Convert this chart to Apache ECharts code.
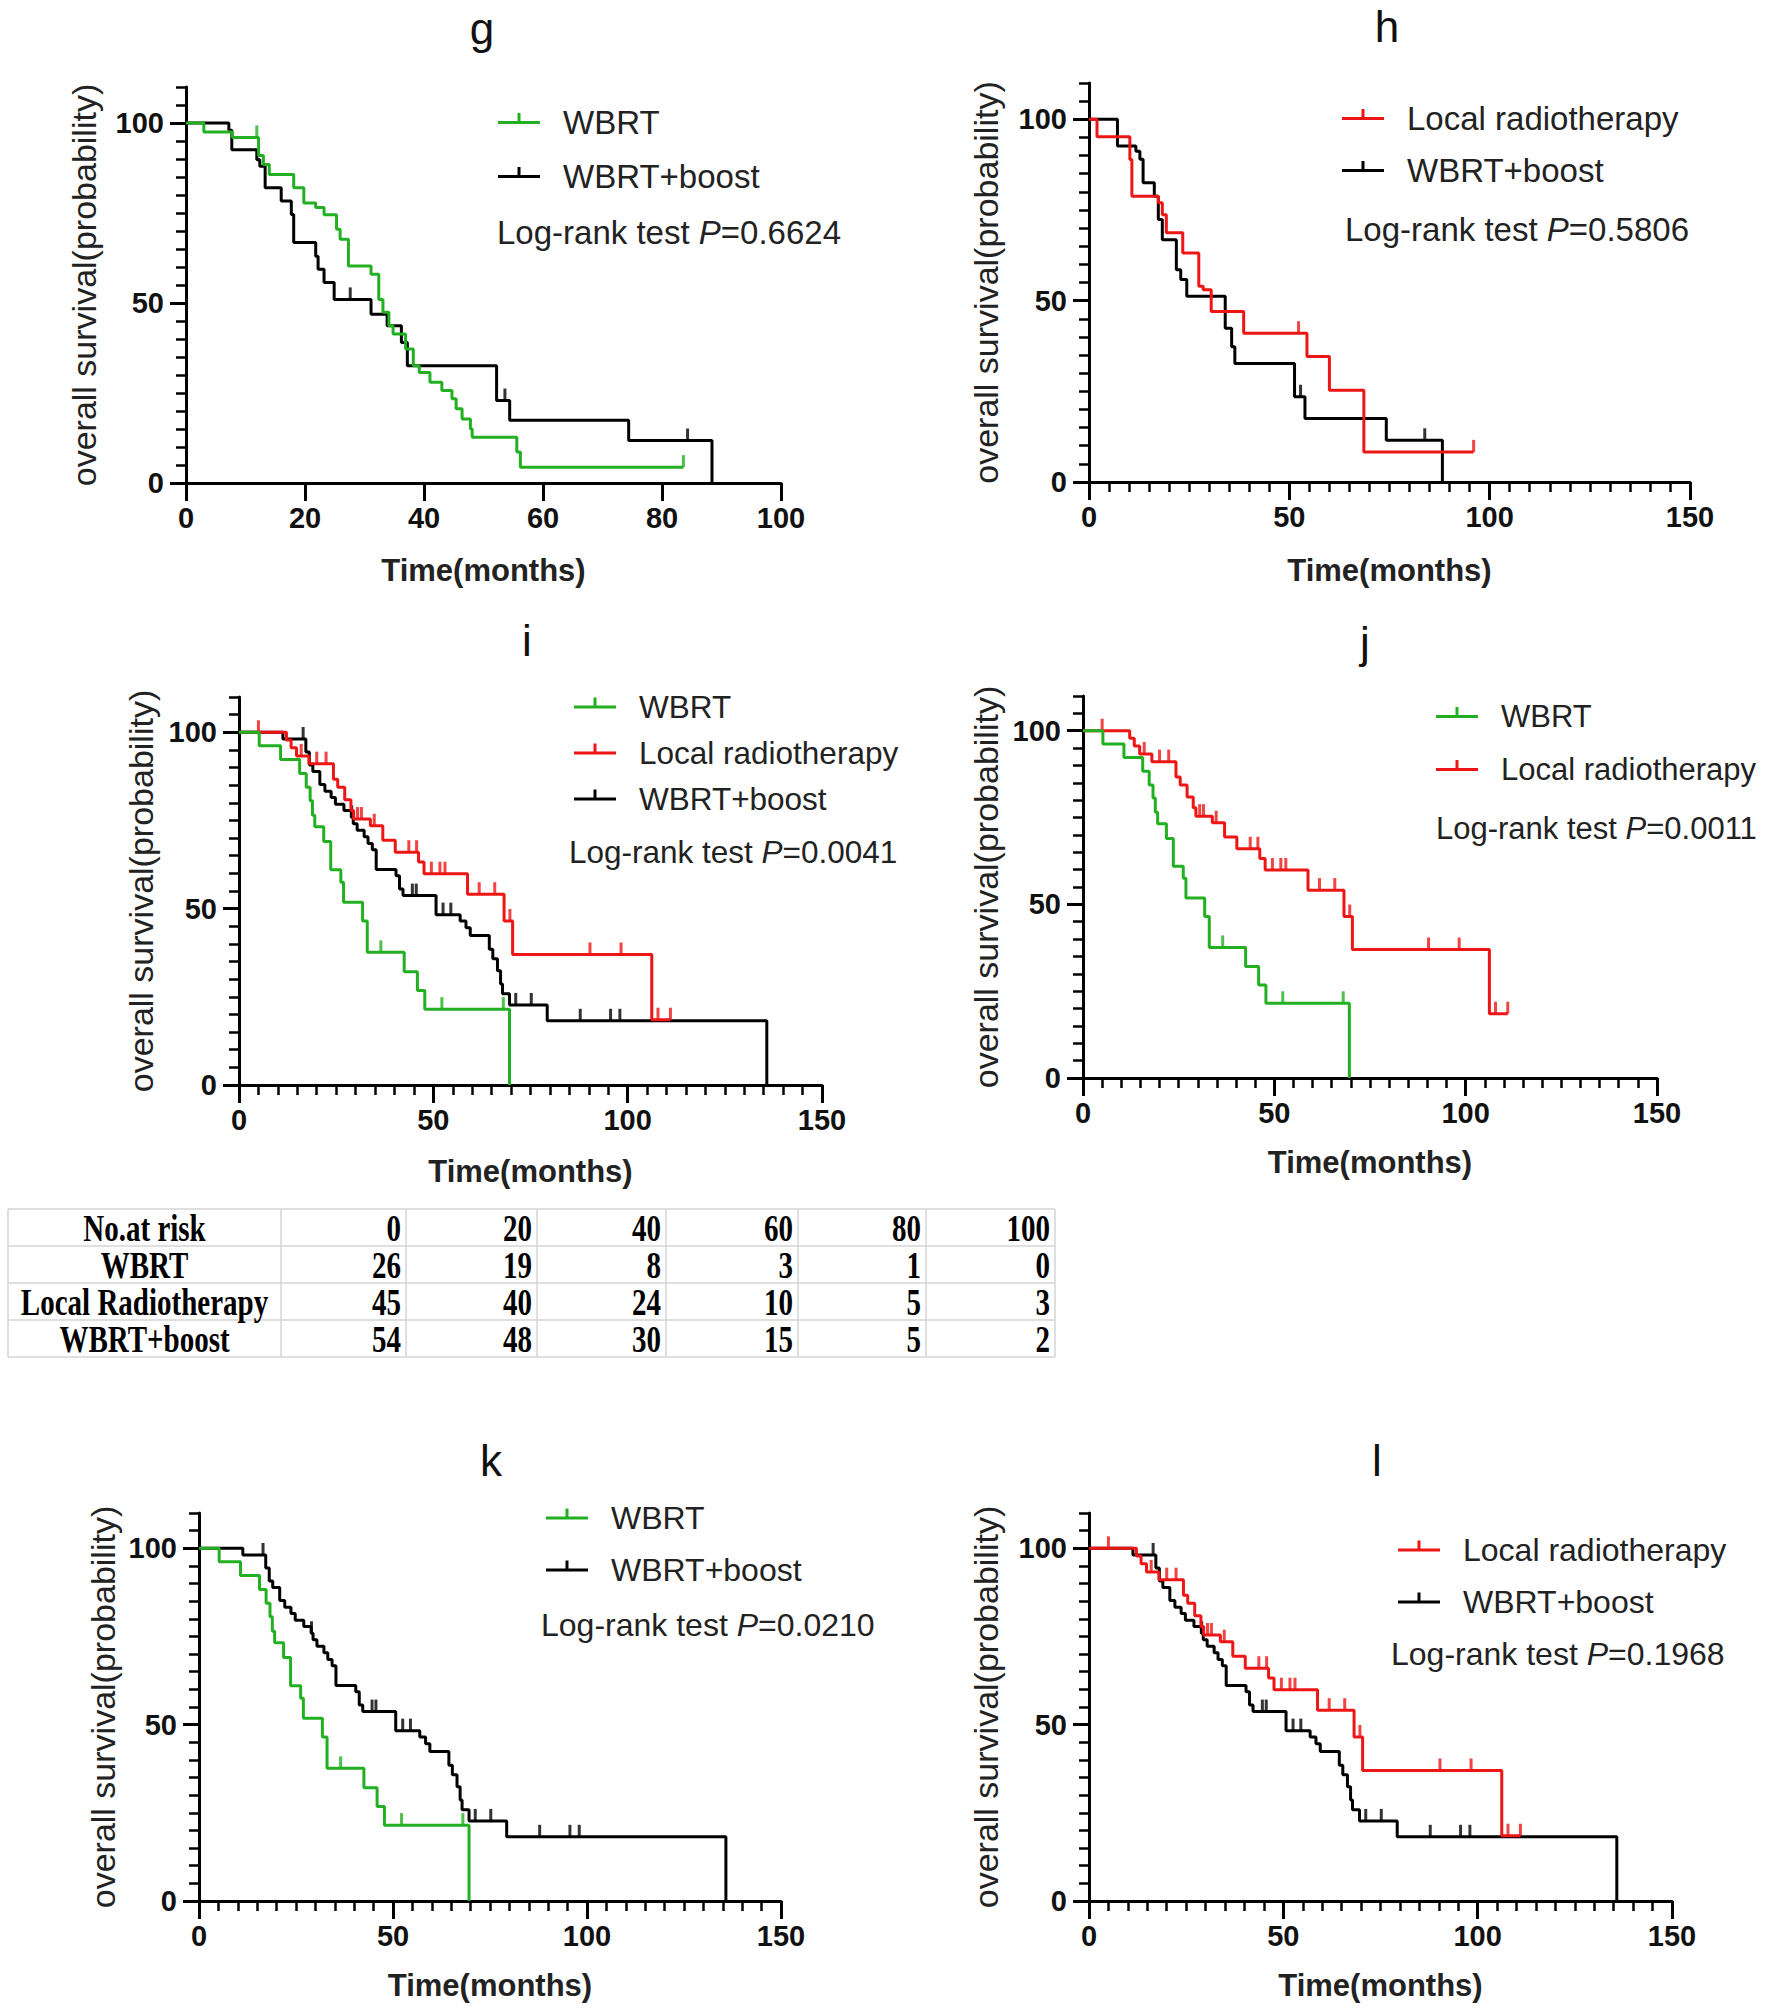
<!DOCTYPE html>
<html><head><meta charset="utf-8">
<script src="https://cdn.jsdelivr.net/npm/echarts@6/dist/echarts.min.js"></script>
<style>html,body{margin:0;padding:0;background:#fff}#c{width:1770px;height:2014px}</style>
</head><body><div id="c"></div>
<script>
// ---------------- DATA ----------------
// Panel g (WBRT vs WBRT+boost subgroup)
const gWbrtSteps = [[0,100],[3,97.5],[7.8,96],[12.2,91],[13,88.5],[14,85.7],[18.1,82],[19.8,77.8],[21.8,76.5],[23.2,74.5],[25.3,70.5],[25.9,67.7],[27.3,60.3],[31.1,58],[32.4,51],[33.1,47.4],[34.1,43.7],[34.8,41.4],[36.9,37.2],[38.2,32.6],[39.2,30.7],[41,28],[43,25.7],[44.7,23.4],[45.4,20.6],[46.4,17.8],[47.8,15],[48.1,12.7],[55.6,8.6],[56.2,4.4],[83.6,4.4]];
const gWbrtCensored = [[11.9,96],[83.6,4.4]];
const gBoostSteps = [[0,100],[7.2,98],[7.7,92.6],[11.9,89.8],[12.4,88],[13.3,82],[16,78.3],[17.7,74.6],[18.1,66.8],[21.8,63],[22.2,59.4],[23.2,55.7],[24.9,51],[31.1,46.9],[33.8,43.7],[36.2,39],[37.2,32.6],[52.2,22.9],[54.4,17.4],[74.4,11.8],[88.4,0]];
const gBoostCensored = [[27.6,51],[53.6,22.9],[84.3,11.8]];
// Panel h (Local radiotherapy vs WBRT+boost subgroup)
const hLocalSteps = [[0,100],[2,95.2],[10.2,88.9],[10.7,78.8],[17.3,77],[18.3,73.7],[19.3,68.7],[23.4,63.1],[27.4,54],[28.5,53],[30.5,47],[38.6,41],[54.4,34.6],[60,25.3],[68.6,8.3],[96,8.3]];
const hLocalCensored = [[52.3,41],[96,8.3]];
const hBoostSteps = [[0,100],[7.1,92.6],[11.7,91.2],[12.7,89],[13.5,82.5],[16.3,78.8],[17.3,72.4],[18.3,66.8],[21.8,58.5],[22.9,55.8],[24.4,51.2],[34,42.4],[35.6,37.3],[36.4,32.7],[51.3,23.5],[53.9,17.5],[74.2,11.5],[88.2,0]];
const hBoostCensored = [[52.8,23.5],[83.8,11.5]];
// Panels i-l (whole cohort)
const wbrtSteps = [[0,100],[5.2,96.2],[10.7,92.3],[15.6,88.3],[17.3,84.4],[18.3,80.6],[18.9,76.5],[19.5,73.2],[21.8,69],[23.6,61],[26.2,57.5],[26.9,51.8],[31.8,46.5],[33,37.6],[42.5,32.1],[45.9,26.8],[47.8,21.5],[69.6,0]];
const wbrtCensored = [[36.5,37.6],[52.2,21.5],[68,21.5]];
const localSteps = [[0,100],[12.2,97.8],[13.4,95.6],[14.8,93.3],[18,91.1],[24.3,86.7],[25.4,84.4],[27.2,80.9],[28.8,77.8],[29.5,75.4],[33.8,73.5],[37,69.4],[40.2,66],[46.2,63.2],[47.6,59.9],[58.8,54.1],[68.2,46.5],[70.4,37],[106.2,18.5],[111,18.5]];
const localCensored = [[5,100],[16,93.3],[20,91.1],[22.4,91.1],[30.5,75.4],[31.5,75.4],[34.8,73.5],[43.7,66],[45.7,66],[49.5,59.9],[51.7,59.9],[53,59.9],[61.8,54.1],[65.8,54.1],[69.7,46.5],[90.3,37],[98.3,37],[107.8,18.5],[111,18.5]];
const boostSteps = [[0,100],[11.3,98.1],[17.2,94.4],[18.1,90.7],[19,88.9],[20.8,85.2],[22.1,83.3],[23.7,81.5],[24.8,79.6],[27,77.8],[28.9,75.9],[29.4,74.1],[30.4,72.2],[32.2,70.4],[33.2,68.5],[34.3,66.7],[35.3,61.1],[40.4,59.3],[41.3,55.6],[42.2,53.7],[50.7,48.3],[56.9,46.5],[58.4,44.6],[59.5,42.4],[64.4,38.5],[65.3,35.8],[66.5,32.4],[67.3,28.6],[67.8,25.9],[69.6,22.7],[79.3,18.2],[135.8,0]];
const boostCensored = [[16.5,98.1],[29,75.9],[44.6,53.7],[45.6,53.7],[52.5,48.3],[54.5,48.3],[71.2,22.7],[75.2,22.7],[87.8,18.2],[95.6,18.2],[98,18.2]];
// Log-rank P values
const pG = '0.6624', pH = '0.5806', pI = '0.0041', pJ = '0.0011', pK = '0.0210', pL = '0.1968';
// Y axis labelled ticks
const yMajorTicks = [0, 50, 100];
// Number at risk table
const riskHeader = ['No.at risk', 0, 20, 40, 60, 80, 100];
const riskGroups = ['WBRT', 'Local Radiotherapy', 'WBRT+boost'];
const riskWbrt = [26, 19, 8, 3, 1, 0];
const riskLocal = [45, 40, 24, 10, 5, 3];
const riskBoost = [54, 48, 30, 15, 5, 2];

// ---------------- STYLE / LAYOUT ----------------
const FONT = '"Liberation Sans", Arial, Helvetica, sans-serif';
const SERIF = '"Liberation Serif", "Times New Roman", serif';
const GREEN = '#22b022', RED = '#ee1515', BLACK = '#000000';
const colorOf = {'WBRT': GREEN, 'Local radiotherapy': RED, 'WBRT+boost': BLACK};

const panels = [
  {letter:'g', grid:{left:186, top:87, width:595, height:396}, xMax:100, xInt:20, xMinor:false, yNameGap:85, xNameGap:72,
   letterPos:[482,28], legendPos:[498,106], legendGap:21, fs:33, logPos:[497,232], p:pG,
   curves:[['WBRT+boost',gBoostSteps,gBoostCensored],['WBRT',gWbrtSteps,gWbrtCensored]], legend:['WBRT','WBRT+boost']},
  {letter:'h', grid:{left:1089, top:83, width:601, height:399}, xMax:150, xInt:50, xMinor:true, yNameGap:86, xNameGap:73,
   letterPos:[1387,26], legendPos:[1342,102], legendGap:19, fs:33, logPos:[1345,229], p:pH,
   curves:[['WBRT+boost',hBoostSteps,hBoostCensored],['Local radiotherapy',hLocalSteps,hLocalCensored]], legend:['Local radiotherapy','WBRT+boost']},
  {letter:'i', grid:{left:239, top:697, width:583, height:388}, xMax:150, xInt:50, xMinor:true, yNameGap:81, xNameGap:71,
   letterPos:[527,640], legendPos:[574,691], legendGap:14, fs:31.5, logPos:[569,852], p:pI,
   curves:[['WBRT+boost',boostSteps,boostCensored],['Local radiotherapy',localSteps,localCensored],['WBRT',wbrtSteps,wbrtCensored]], legend:['WBRT','Local radiotherapy','WBRT+boost']},
  {letter:'j', grid:{left:1083, top:696, width:574, height:382}, xMax:150, xInt:50, xMinor:true, yNameGap:80, xNameGap:69,
   letterPos:[1365,642], legendPos:[1436,701], legendGap:22, fs:31, logPos:[1436,828], p:pJ,
   curves:[['Local radiotherapy',localSteps,localCensored],['WBRT',wbrtSteps,wbrtCensored]], legend:['WBRT','Local radiotherapy']},
  {letter:'k', grid:{left:199, top:1513, width:582, height:388}, xMax:150, xInt:50, xMinor:true, yNameGap:79, xNameGap:69,
   letterPos:[491,1460], legendPos:[546,1502], legendGap:20, fs:32, logPos:[541,1625], p:pK,
   curves:[['WBRT+boost',boostSteps,boostCensored],['WBRT',wbrtSteps,wbrtCensored]], legend:['WBRT','WBRT+boost']},
  {letter:'l', grid:{left:1089, top:1513, width:583, height:388}, xMax:150, xInt:50, xMinor:true, yNameGap:86, xNameGap:69,
   letterPos:[1377,1460], legendPos:[1398,1534], legendGap:20, fs:32, logPos:[1391,1654], p:pL,
   curves:[['WBRT+boost',boostSteps,boostCensored],['Local radiotherapy',localSteps,localCensored]], legend:['Local radiotherapy','WBRT+boost']}
];

const LEGEND_ICON = 'path://M0,9L42,9L42,12L0,12Z M19.5,1L22.5,1L22.5,9L19.5,9Z M60,0L60,0 M60,21L60,21';

const grids = [], xAxes = [], yAxes = [], series = [], legends = [], graphics = [];
panels.forEach((p, idx) => {
  grids.push(Object.assign({containLabel:false}, p.grid));
  xAxes.push({
    gridIndex: idx, type: 'value', min: 0, max: p.xMax, interval: p.xInt,
    axisLine: {show: true, onZero: false, lineStyle: {color: '#000', width: 3}},
    axisTick: {show: true, length: 18, lineStyle: {color: '#000', width: 3}},
    minorTick: {show: p.xMinor, splitNumber: 10, length: 10, lineStyle: {color: '#000', width: 2.5}},
    splitLine: {show: false}, minorSplitLine: {show: false},
    axisLabel: {interval: 0, margin: 20, fontSize: 29, fontWeight: 'bold', color: '#111', fontFamily: FONT},
    name: 'Time(months)', nameLocation: 'middle', nameGap: p.xNameGap,
    nameTextStyle: {fontSize: 31, fontWeight: 'bold', color: '#222', fontFamily: FONT}
  });
  // main y axis: line, minor-length ticks every 5, labels at 0/50/100
  yAxes.push({
    gridIndex: idx, type: 'value', position: 'left', min: 0, max: 110, interval: 5,
    axisLine: {show: true, onZero: false, lineStyle: {color: '#000', width: 3}},
    axisTick: {show: true, length: 10, lineStyle: {color: '#000', width: 2.5}},
    splitLine: {show: false},
    axisLabel: {interval: 0, margin: 22, fontSize: 29, fontWeight: 'bold', color: '#111', fontFamily: FONT,
      formatter: v => yMajorTicks.indexOf(v) >= 0 ? String(v) : ''},
    name: 'overall survival(probability)', nameLocation: 'middle', nameRotate: 90, nameGap: p.yNameGap,
    nameTextStyle: {fontSize: 34, color: '#222', fontFamily: FONT}
  });
  // overlay y axis: longer ticks at labelled values
  yAxes.push({
    gridIndex: idx, type: 'value', position: 'left', min: 0, max: 110, interval: 50,
    axisLine: {show: false}, splitLine: {show: false}, axisLabel: {show: false},
    axisTick: {show: true, length: 16, customValues: yMajorTicks, lineStyle: {color: '#000', width: 3}}
  });
  p.curves.forEach(([name, steps, cens], ci) => {
    const col = colorOf[name];
    series.push({type: 'line', name: name, xAxisIndex: idx, yAxisIndex: 2 * idx, step: 'end', symbol: 'none',
      data: steps, lineStyle: {color: col, width: 3}, itemStyle: {color: col}, silent: true, z: 2 + ci});
    series.push({type: 'scatter', name: name + ' (censored)', xAxisIndex: idx, yAxisIndex: 2 * idx, data: cens,
      symbol: 'rect', symbolSize: [3, 12], symbolOffset: [0, -6], itemStyle: {color: col}, silent: true, z: 2 + ci});
  });
  legends.push({
    data: p.legend, orient: 'vertical', left: p.legendPos[0], top: p.legendPos[1], itemGap: p.legendGap,
    icon: LEGEND_ICON, itemWidth: 60, itemHeight: 21, selectedMode: false, padding: 0,
    textStyle: {fontSize: p.fs, color: '#222', fontFamily: FONT}
  });
  graphics.push({type: 'text', x: p.letterPos[0], y: p.letterPos[1], silent: true,
    style: {text: p.letter, fontSize: 44, fontFamily: FONT, fill: '#111', textAlign: 'center', textVerticalAlign: 'middle', align: 'center', verticalAlign: 'middle'}});
  graphics.push({type: 'text', x: p.logPos[0], y: p.logPos[1], silent: true,
    style: {text: 'Log-rank test {i|P}=' + p.p, fontSize: p.fs, fontFamily: FONT, fill: '#222',
      textAlign: 'left', textVerticalAlign: 'middle', align: 'left', verticalAlign: 'middle',
      rich: {i: {fontStyle: 'italic', fontSize: p.fs, fontFamily: FONT, fill: '#222'}}}});
});

// Number-at-risk table
const TBL = {top: 1209, rowH: 37, cols: [8, 281, 406, 537, 666, 798, 926, 1055]};
const tableRows = [riskHeader, [riskGroups[0]].concat(riskWbrt), [riskGroups[1]].concat(riskLocal), [riskGroups[2]].concat(riskBoost)];
for (let r = 0; r <= tableRows.length; r++) {
  const y = TBL.top + r * TBL.rowH;
  graphics.push({type: 'line', silent: true, shape: {x1: TBL.cols[0], y1: y, x2: TBL.cols[TBL.cols.length - 1], y2: y},
    style: {stroke: '#d4d4d4', lineWidth: 1.5}});
}
TBL.cols.forEach(x => {
  graphics.push({type: 'line', silent: true, shape: {x1: x, y1: TBL.top, x2: x, y2: TBL.top + tableRows.length * TBL.rowH},
    style: {stroke: '#d4d4d4', lineWidth: 1.5}});
});
tableRows.forEach((row, r) => {
  const cy = TBL.top + (r + 0.5) * TBL.rowH + 1;
  row.forEach((val, c) => {
    const first = c === 0;
    const x = first ? (TBL.cols[0] + TBL.cols[1]) / 2 : TBL.cols[c + 1] - 5;
    graphics.push({type: 'text', x: x, y: cy, scaleY: 1.3, silent: true,
      style: {text: String(val), fontSize: 29, fontWeight: 'bold', fontFamily: SERIF, fill: '#000',
        textAlign: first ? 'center' : 'right', align: first ? 'center' : 'right',
        textVerticalAlign: 'middle', verticalAlign: 'middle'}});
  });
});

const chart = echarts.init(document.getElementById('c'), null, {renderer: 'svg', width: 1770, height: 2014});
chart.setOption({
  animation: false,
  backgroundColor: '#ffffff',
  grid: grids, xAxis: xAxes, yAxis: yAxes, series: series, legend: legends, graphic: graphics
});
</script>
</body></html>
